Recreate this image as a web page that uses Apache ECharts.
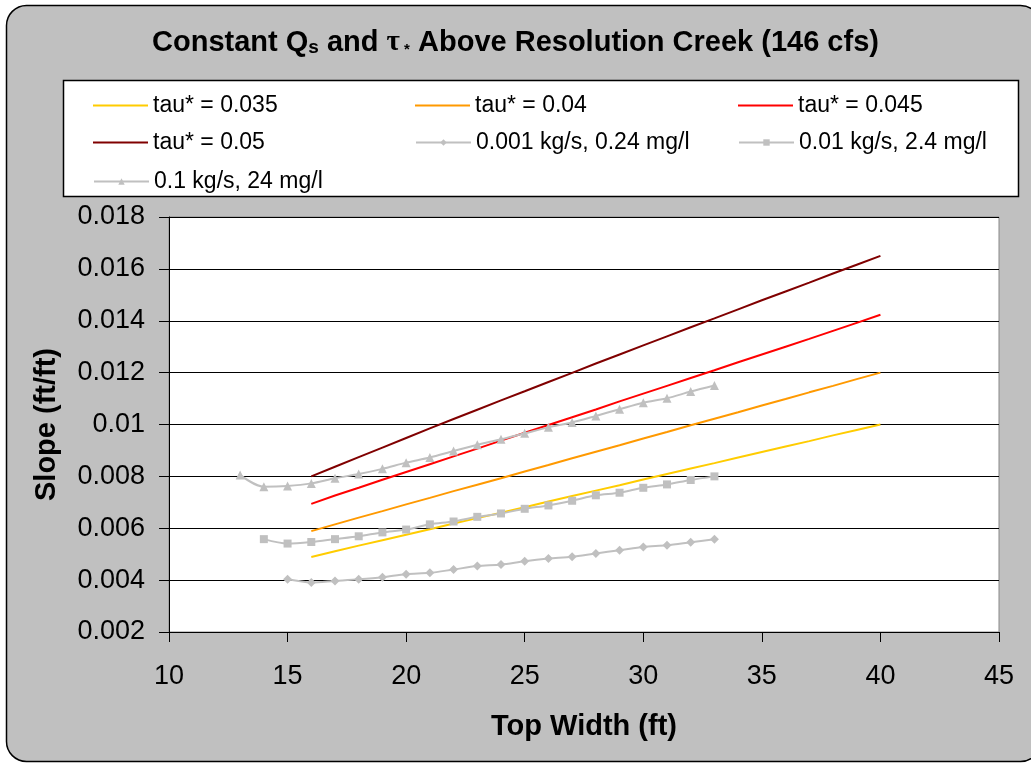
<!DOCTYPE html>
<html>
<head>
<meta charset="utf-8">
<script src="https://cdn.jsdelivr.net/npm/echarts@6/dist/echarts.min.js"></script>
<style>
  html, body { margin: 0; padding: 0; background: #ffffff; }
  #chart { width: 1031px; height: 763px; }
</style>
</head>
<body>
<div id="chart"></div>
<script>
// ---- Data ----
const tauWidths = [16, 17, 18, 19, 20, 21, 22, 23, 24, 25, 26, 27, 28, 29, 30, 31, 32, 33, 34, 35, 36, 37, 38, 39, 40];
const tau035 = [0.00489, 0.00511, 0.00533, 0.00554, 0.00575, 0.00596, 0.00618, 0.00639, 0.00660, 0.00681, 0.00703, 0.00724, 0.00745, 0.00766, 0.00788, 0.00809, 0.00830, 0.00851, 0.00873, 0.00894, 0.00915, 0.00936, 0.00958, 0.00979, 0.01000];
const tau040 = [0.00589, 0.00615, 0.00641, 0.00666, 0.00692, 0.00717, 0.00743, 0.00768, 0.00793, 0.00819, 0.00844, 0.00870, 0.00895, 0.00920, 0.00946, 0.00971, 0.00997, 0.01022, 0.01047, 0.01073, 0.01098, 0.01124, 0.01149, 0.01175, 0.01200];
const tau045 = [0.00694, 0.00726, 0.00756, 0.00787, 0.00817, 0.00847, 0.00877, 0.00907, 0.00938, 0.00968, 0.00998, 0.01028, 0.01058, 0.01089, 0.01119, 0.01149, 0.01179, 0.01209, 0.01240, 0.01270, 0.01300, 0.01330, 0.01361, 0.01392, 0.01423];
const tau050 = [0.00800, 0.00837, 0.00874, 0.00911, 0.00948, 0.00985, 0.01021, 0.01057, 0.01093, 0.01128, 0.01164, 0.01199, 0.01235, 0.01270, 0.01305, 0.01340, 0.01375, 0.01409, 0.01444, 0.01479, 0.01513, 0.01547, 0.01582, 0.01616, 0.01650];

const qs001Widths = [15, 16, 17, 18, 19, 20, 21, 22, 23, 24, 25, 26, 27, 28, 29, 30, 31, 32, 33];
const qs001 = [0.00403, 0.00391, 0.00397, 0.00403, 0.00411, 0.00423, 0.00428, 0.00441, 0.00454, 0.00460, 0.00473, 0.00483, 0.00490, 0.00503, 0.00515, 0.00528, 0.00534, 0.00546, 0.00558];

const qs01Widths = [14, 15, 16, 17, 18, 19, 20, 21, 22, 23, 24, 25, 26, 27, 28, 29, 30, 31, 32, 33];
const qs01 = [0.00558, 0.00541, 0.00547, 0.00558, 0.00569, 0.00584, 0.00595, 0.00615, 0.00626, 0.00644, 0.00657, 0.00675, 0.00688, 0.00706, 0.00727, 0.00737, 0.00756, 0.00769, 0.00786, 0.00800];

const qs1Widths = [13, 14, 15, 16, 17, 18, 19, 20, 21, 22, 23, 24, 25, 26, 27, 28, 29, 30, 31, 32, 33];
const qs1 = [0.00805, 0.00760, 0.00763, 0.00773, 0.00793, 0.00809, 0.00829, 0.00853, 0.00873, 0.00898, 0.00922, 0.00943, 0.00966, 0.00989, 0.01008, 0.01033, 0.01059, 0.01084, 0.01101, 0.01127, 0.01150];

const seriesNames = ['tau* = 0.035', 'tau* = 0.04', 'tau* = 0.045', 'tau* = 0.05',
                     '0.001 kg/s, 0.24 mg/l', '0.01 kg/s, 2.4 mg/l', '0.1 kg/s, 24 mg/l'];
const xTickLabels = ['10', '15', '20', '25', '30', '35', '40', '45'];
const yTickLabels = ['0.002', '0.004', '0.006', '0.008', '0.01', '0.012', '0.014', '0.016', '0.018'];

// ---- Chart ----
const FONT = '"Liberation Sans", Arial, sans-serif';
const pairs = (xs, ys) => xs.map((x, i) => [x, ys[i]]);
const chart = echarts.init(document.getElementById('chart'), null, { renderer: 'canvas' });

const tauColors = ['#FFCC00', '#FF9900', '#FF0000', '#800000'];
const tauData = [tau035, tau040, tau045, tau050];
const greyColor = '#C0C0C0';
const greySets = [
  { xs: qs001Widths, ys: qs001, symbol: 'diamond', size: 9 },
  { xs: qs01Widths, ys: qs01, symbol: 'rect', size: 8 },
  { xs: qs1Widths, ys: qs1, symbol: 'triangle', size: 9 }
];

const series = [];
tauData.forEach((ys, i) => {
  series.push({
    name: seriesNames[i], type: 'line', data: pairs(tauWidths, ys),
    symbol: 'none', lineStyle: { color: tauColors[i], width: 2 },
    itemStyle: { color: tauColors[i] }, smooth: false
  });
});
greySets.forEach((g, i) => {
  series.push({
    name: seriesNames[4 + i], type: 'line', data: pairs(g.xs, g.ys),
    symbol: g.symbol, symbolSize: g.size, showSymbol: true,
    lineStyle: { color: greyColor, width: 2 },
    itemStyle: { color: greyColor }, smooth: 0.3
  });
});

const legendPos = [
  [88, 89], [410, 89], [733, 89],
  [88, 126], [410, 126], [733, 126],
  [88, 165]
];
const legends = seriesNames.map((n, i) => {
  const isTau = i < 4;
  return {
    data: [isTau ? { name: n, icon: 'rect' } : n],
    left: legendPos[i][0], top: legendPos[i][1],
    itemWidth: 55, itemHeight: isTau ? 2 : 8, selectedMode: false,
    textStyle: { fontSize: 23, color: '#000', fontFamily: FONT }
  };
});

const option = {
  animation: false,
  backgroundColor: '#ffffff',
  graphic: [
    { type: 'rect', z: -20, shape: { x: 6.5, y: 5.5, width: 1034, height: 756, r: 20 },
      style: { fill: '#C0C0C0', stroke: '#000', lineWidth: 1.5 } },
    { type: 'rect', z: -10, shape: { x: 63.5, y: 80.5, width: 955, height: 116 },
      style: { fill: '#ffffff', stroke: '#000', lineWidth: 1.5 } }
  ],
  title: {
    left: 'center', top: 18,
    text: '{b|Constant Q}{sub|s}{b| and }{tau|τ}{st| *}{b| Above Resolution Creek (146 cfs)}',
    textStyle: {
      rich: {
        b: { fontSize: 29, fontWeight: 'bold', fontFamily: FONT, color: '#000', lineHeight: 34, verticalAlign: 'bottom' },
        sub: { fontSize: 19, fontWeight: 'bold', fontFamily: FONT, color: '#000', lineHeight: 12, verticalAlign: 'bottom' },
        tau: { fontSize: 29, fontFamily: '"Liberation Serif", serif', color: '#000', lineHeight: 34, verticalAlign: 'bottom' },
        st: { fontSize: 15, fontWeight: 'bold', fontFamily: FONT, color: '#000', lineHeight: 18, verticalAlign: 'bottom' }
      }
    }
  },
  legend: legends,
  grid: {
    left: 169, top: 217, width: 830, height: 415,
    show: true, backgroundColor: '#ffffff', borderColor: '#888888', borderWidth: 1,
    containLabel: false
  },
  xAxis: {
    type: 'value', min: 10, max: 45, interval: 5,
    axisLine: { show: true, onZero: false, lineStyle: { color: '#000', width: 1 } },
    axisTick: { show: true, length: 10, lineStyle: { color: '#000' } },
    axisLabel: { fontSize: 27, color: '#000', fontFamily: FONT, margin: 31,
      formatter: (v, i) => xTickLabels[i] },
    splitLine: { show: false },
    name: 'Top Width (ft)', nameLocation: 'middle', nameGap: 80,
    nameTextStyle: { fontSize: 29, fontWeight: 'bold', color: '#000', fontFamily: FONT }
  },
  yAxis: {
    type: 'value', min: 0.002, max: 0.018, interval: 0.002,
    axisLine: { show: true, lineStyle: { color: '#000', width: 1 } },
    axisTick: { show: true, length: 10, lineStyle: { color: '#000' } },
    axisLabel: { fontSize: 27, color: '#000', fontFamily: FONT, margin: 24,
      formatter: (v, i) => yTickLabels[i] },
    splitLine: { show: true, lineStyle: { color: '#000', width: 1 } },
    name: 'Slope (ft/ft)', nameLocation: 'middle', nameGap: 108,
    nameTextStyle: { fontSize: 29, fontWeight: 'bold', color: '#000', fontFamily: FONT }
  },
  series: series
};
chart.setOption(option);
</script>
</body>
</html>
